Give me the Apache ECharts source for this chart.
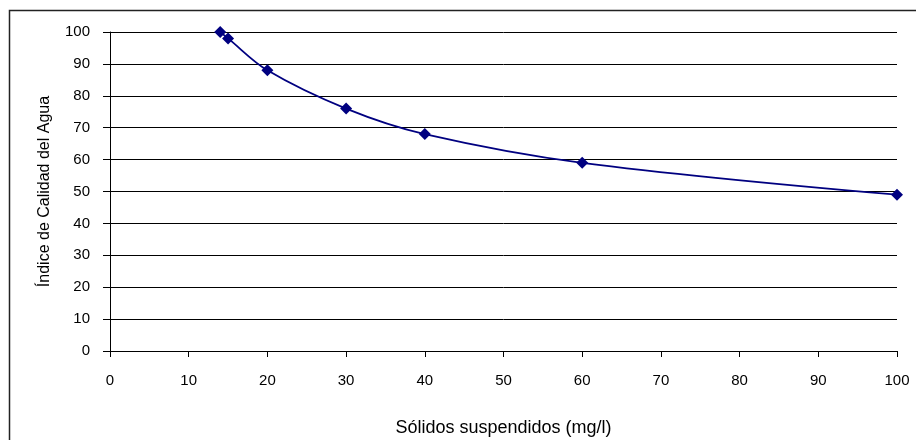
<!DOCTYPE html>
<html>
<head>
<meta charset="utf-8">
<script src="https://cdn.jsdelivr.net/npm/echarts@6/dist/echarts.min.js"></script>
<style>
html,body{margin:0;padding:0;background:#fff;}
#chart{width:916px;height:440px;}
</style>
</head>
<body>
<div id="chart"></div>
<script>
const solidos = [14, 15, 20, 30, 40, 60, 100];
const indice = [100, 98, 88, 76, 68, 59, 49];
const xTitle = 'Sólidos suspendidos (mg/l)';
const yTitle = 'Índice de Calidad del Agua';

const chart = echarts.init(document.getElementById('chart'), null, {renderer: 'canvas'});
const font = '"Liberation Sans", Arial, sans-serif';
chart.setOption({
  animation: false,
  backgroundColor: '#fff',
  graphic: [{
    type: 'rect',
    shape: {x: 9.5, y: 10.5, width: 1000, height: 1000},
    style: {fill: 'none', stroke: '#222', lineWidth: 1.5},
    silent: true
  }],
  grid: {left: 110, right: 19, top: 32, bottom: 89, outerBoundsMode: 'none', containLabel: false},
  xAxis: {
    type: 'value', min: 0, max: 100, interval: 10,
    name: xTitle, nameLocation: 'middle', nameGap: 68,
    nameTextStyle: {fontFamily: font, fontSize: 18, color: '#000'},
    axisLine: {show: true, lineStyle: {color: '#000', width: 1}},
    axisTick: {show: true, length: 6, lineStyle: {color: '#000'}},
    axisLabel: {fontFamily: font, fontSize: 15, color: '#000', margin: 22},
    splitLine: {show: false}
  },
  yAxis: {
    type: 'value', min: 0, max: 100, interval: 10,
    name: yTitle, nameLocation: 'middle', nameGap: 57, nameRotate: 90,
    nameTextStyle: {fontFamily: font, fontSize: 16, color: '#000'},
    axisLine: {show: true, lineStyle: {color: '#000', width: 1}},
    axisTick: {show: true, length: 7, lineStyle: {color: '#000'}},
    axisLabel: {fontFamily: font, fontSize: 15, color: '#000', margin: 20},
    splitLine: {show: true, lineStyle: {color: '#000', width: 1}}
  },
  series: [{
    type: 'line',
    data: solidos.map((x, i) => [x, indice[i]]),
    smooth: 0.35,
    symbol: 'diamond',
    symbolSize: 12,
    lineStyle: {color: '#000080', width: 1.8},
    itemStyle: {color: '#000080', borderWidth: 0}
  }]
});
</script>
</body>
</html>
